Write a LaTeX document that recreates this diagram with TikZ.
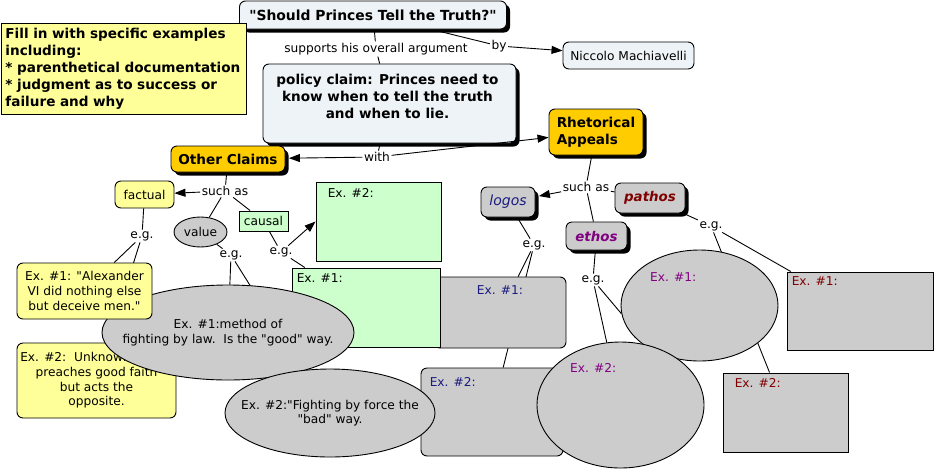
\documentclass[tikz,border=0pt]{standalone}
\usepackage{fontspec}
\setmainfont{DejaVu Sans}[Ligatures=TeXOff]
\usetikzlibrary{shapes.geometric,arrows.meta,shadows}
\pgfdeclarelayer{paper}
\pgfdeclarelayer{bg}
\pgfsetlayers{paper,bg,main}
\definecolor{paleblue}{RGB}{237,243,246}
\definecolor{noteyellow}{RGB}{255,255,153}
\definecolor{orangec}{RGB}{255,204,0}
\definecolor{grayc}{RGB}{204,204,204}
\definecolor{greenc}{RGB}{204,255,204}
\definecolor{navyc}{RGB}{26,26,128}
\definecolor{purplec}{RGB}{128,0,128}
\definecolor{darkredc}{RGB}{128,0,0}
\newcommand\myfn{\fontsize{12.2}{14.6}\selectfont}
\newcommand\myfb{\fontsize{13.6}{17}\selectfont\bfseries}
\newcommand\myft{\fontsize{13.9}{17}\selectfont\bfseries}
\newcommand\myfl{\fontsize{14}{16}\selectfont\itshape}
\newcommand\myfbi{\fontsize{13.4}{16}\selectfont\bfseries\itshape}
\tikzset{
  box/.style={draw=black, line width=0.9pt, inner sep=0pt, font=\myfn},
  rbox/.style={box, rounded corners=6pt},
  shad/.style={general shadow={fill=black, shadow xshift=3.5pt, shadow yshift=-3.5pt}},
  ell/.style={box, ellipse},
  lbl/.style={inner sep=1.5pt, font=\myfn},
  link/.style={draw=black, line width=0.9pt},
  arr/.style={link, -{Triangle[length=11pt,width=8pt]}},
  intext/.style={inner sep=0pt, font=\myfn, anchor=north west},
}
\begin{document}
\begin{tikzpicture}[x=1pt, y=-1pt]
\useasboundingbox (0,0) rectangle (936,469);
\begin{pgfonlayer}{paper}
\fill[white] (0,0) rectangle (936,469);
\end{pgfonlayer}

% top
\node[rbox, shad, fill=paleblue, minimum width=267pt, minimum height=28pt, font=\myft] (title) at (373,15) {"Should Princes Tell the Truth?"};
\node[box, fill=noteyellow, anchor=north west, minimum width=245pt, minimum height=91pt, align=left, text width=237pt, inner xsep=4pt, font=\myfb] (note) at (1,23) {Fill in with specific examples\\including:\\{*} parenthetical documentation\\{*} judgment as to success or\\failure and why};
\node[lbl] (supports) at (376,49) {supports his overall argument};
\node[lbl] (by) at (499,46) {by};
\node[rbox, fill=paleblue, minimum width=131pt, minimum height=27pt] (nic) at (628.5,55.5) {Niccolo Machiavelli};
\node[rbox, shad, fill=paleblue, minimum width=253pt, minimum height=79pt] (policy) at (389.5,103.5) {};
\node[font=\myfb, align=center, inner sep=0pt] (policyt) at ([xshift=-2pt,yshift=7.5pt]policy.center) {policy claim: Princes need to\\know when to tell the truth\\and when to lie.};
\node[lbl] (with) at (377,157) {with};
\node[rbox, shad, fill=orangec, minimum width=114pt, minimum height=26pt, font=\myfb] (others) at (228,159) {Other Claims};
\node[rbox, shad, fill=orangec, minimum width=94pt, minimum height=46pt, font=\myfb, align=left, inner xsep=7.5pt] (rhet) at (596,132) {Rhetorical\\Appeals};

% other claims branch
\node[lbl] (suchL) at (225,191) {such as};
\node[rbox, fill=noteyellow, minimum width=59pt, minimum height=27pt] (factual) at (144.5,194.5) {factual};
\node[ell, fill=grayc, minimum width=53pt, minimum height=30pt] (value) at (200.5,232) {value};
\node[box, fill=greenc, minimum width=49pt, minimum height=20pt] (causal) at (263.5,221) {causal};
\node[lbl] (egF) at (142,236) {e.g.};
\node[lbl] (egV) at (231,255) {e.g.};
\node[lbl] (egC) at (281,252) {e.g.};

\node[box, fill=greenc, minimum width=125pt, minimum height=79pt] (gex2) at (378.5,221.5) {};
\node[intext] (gex2t) at ([shift={(12,7)}]gex2.north west) {Ex. \#2:};
\node[rbox, fill=grayc, minimum width=132pt, minimum height=71pt] (lex1) at (500,312.5) {};
\node[inner sep=0pt, font=\myfn, anchor=north, text=navyc] (lex1t) at ([yshift=-9pt]lex1.north) {Ex. \#1:};
\node[box, fill=greenc, minimum width=148pt, minimum height=79pt] (gex1) at (366,307.5) {};
\node[intext] (gex1t) at ([shift={(5,6)}]gex1.north west) {Ex. \#1:};
\node[rbox, fill=noteyellow, minimum width=159pt, minimum height=75pt, align=center] (yex2) at (96.5,380.5) {Ex. \#2:\ \ Unknown prince\\preaches good faith\\but acts the\\opposite.};
\node[ell, fill=grayc, minimum width=252pt, minimum height=95pt] (vex1) at (228,332.5) {};
\node[inner sep=0pt, align=center, font=\myfn] (vex1t) at (vex1.center) {Ex. \#1:method of\\fighting by law.\ \ Is the "good" way.};
\node[rbox, fill=noteyellow, minimum width=135pt, minimum height=56pt, align=center] (yex1) at (84.5,291) {Ex. \#1: "Alexander\\VI did nothing else\\but deceive men."};
\node[rbox, fill=grayc, minimum width=142pt, minimum height=88pt] (lex2) at (492,412) {};
\node[intext, text=navyc] (lex2t) at ([shift={(9,10)}]lex2.north west) {Ex. \#2:};
\node[ell, fill=grayc, minimum width=210pt, minimum height=88pt] (vex2) at (330,413) {};
\node[inner sep=0pt, align=center, font=\myfn] (vex2t) at (vex2.center) {Ex. \#2:"Fighting by force the\\"bad" way.};

% rhetorical branch
\node[ell, fill=grayc, minimum width=157pt, minimum height=111pt] (eex1) at (699.5,305.5) {};
\node[intext, text=purplec] (eex1t) at ([shift={(-49.5,-33.5)}]eex1.center) {Ex. \#1:};
\node[ell, fill=grayc, minimum width=167pt, minimum height=126pt] (eex2) at (620.5,405) {};
\node[intext, text=purplec] (eex2t) at ([shift={(-50.5,-42)}]eex2.center) {Ex. \#2:};
\node[box, fill=grayc, minimum width=146pt, minimum height=78pt] (pex1) at (860,311) {};
\node[intext, text=darkredc] (pex1t) at ([shift={(5,5)}]pex1.north west) {Ex. \#1:};
\node[box, fill=grayc, minimum width=125pt, minimum height=79pt] (pex2) at (785.5,412.5) {};
\node[intext, text=darkredc] (pex2t) at ([shift={(12,6)}]pex2.north west) {Ex. \#2:};

\node[lbl] (suchR) at (586,187) {such as};
\node[rbox, shad, fill=grayc, minimum width=54pt, minimum height=30pt, font=\myfl, text=navyc] (logos) at (508,202) {logos};
\node[rbox, shad, fill=grayc, minimum width=61pt, minimum height=28pt, font=\myfbi, text=purplec] (ethos) at (596.5,236) {ethos};
\node[rbox, shad, fill=grayc, minimum width=70pt, minimum height=30pt, font=\myfbi, text=darkredc] (pathos) at (650,198) {pathos};
\node[lbl] (egL) at (534,245) {e.g.};
\node[lbl] (egE) at (593,280) {e.g.};
\node[lbl] (egP) at (711,226) {e.g.};

% plain connectors behind the shapes
\begin{pgfonlayer}{bg}
\draw[link] (title) -- (supports);
\draw[link] (supports) -- (policy);
\draw[link] (title) -- (by);
\draw[link] (policy) -- (with);
\draw[link] (others) -- (suchL);
\draw[link] (suchL) -- (value);
\draw[link] (suchL) -- (causal);
\draw[link] (factual) -- (egF);
\draw[link] (egF) -- (yex1);
\draw[link] (egF) -- (yex2);
\draw[link] (value) -- (egV);
\draw[link] (egV) -- (vex1);
\draw[link] (egV) -- (vex2);
\draw[link] (causal) -- (egC);
\draw[link] (egC) -- (gex1);
\draw[link] (rhet) -- (suchR);
\draw[link] (suchR) -- (ethos);
\draw[link] (suchR) -- (pathos);
\draw[link] (logos) -- (egL);
\draw[link] (egL) -- (lex1);
\draw[link] (egL) -- (lex2);
\draw[link] (ethos) -- (egE);
\draw[link] (egE) -- (eex1.186);
\draw[link] (egE) -- (eex2);
\draw[link] (pathos) -- (egP);
\draw[link] (egP) -- (pex1);
\draw[link] (egP) -- (pex2);
\end{pgfonlayer}

% arrows
\draw[arr] (by) -- (nic);
\draw[arr, shorten >=3.5pt] (with) -- (others);
\draw[arr] (with) -- (rhet);
\draw[arr] (suchL) -- (factual);
\draw[arr] (egC) -- (gex2.west);
\draw[arr, shorten >=3.5pt] (suchR) -- (logos);
\end{tikzpicture}
\end{document}
